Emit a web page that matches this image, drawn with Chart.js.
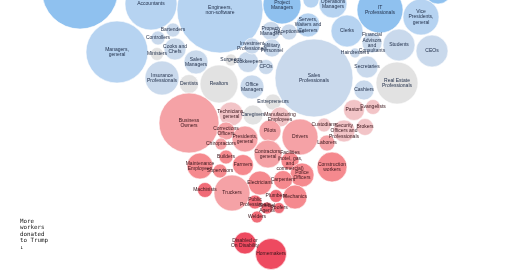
<!DOCTYPE html>
<html><head><meta charset="utf-8">
<script src="https://cdn.jsdelivr.net/npm/chart.js@4"></script>
<style>
html,body{margin:0;padding:0;background:#fff;}
#wrap{position:relative;width:520px;height:272px;overflow:hidden;}
#note{position:absolute;left:20px;top:218px;font:5.8px/6.4px "DejaVu Sans Mono",monospace;color:#111;white-space:pre;}
</style></head><body>
<div id="wrap"><canvas id="c" width="520" height="272"></canvas><div id="note">More
workers
donated
to Trump
↓</div></div>
<script>
// Occupations (line breaks are part of the label text)
const occupations = [
  "", "Accountants", "Engineers,\nnon-software", "Project\nManagers", "", "Operations\nManagers",
  "Servers,\nWaiters and\nCaterers", "Property\nManagers", "Receptionists", "Clerks", "IT\nProfessionals",
  "Vice\nPresidents,\ngeneral", "", "Students", "CEOs", "Financial\nAdvisors\nand\nConsultants",
  "Hairdressers", "Secretaries", "Real Estate\nProfessionals", "Cashiers", "Sales\nProfessionals",
  "Managers,\ngeneral", "Bartenders", "Controllers", "Cooks and\nChefs", "Ministers", "Sales\nManagers",
  "Insurance\nProfessionals", "Dentists", "Realtors", "Surgeons", "Bookkeepers", "CFOs",
  "Investment\nProfessionals", "Military\nPersonnel", "Office\nManagers", "Entrepreneurs", "Caregivers",
  "Technicians,\ngeneral", "Manufacturing\nEmployees", "Business\nOwners", "Corrections\nOfficers",
  "Presidents,\ngeneral", "Pilots", "Drivers", "Chiropractors", "Custodians",
  "Security\nOfficers and\nProfessionals", "Pastors", "Evangelists", "Brokers", "Laborers",
  "Construction\nworkers", "Builders", "Maintenance\nEmployees", "Supervisors", "Farmers",
  "Contractors,\ngeneral", "Facilities\n(hotel, gas,\nand\ncommercial)", "Police\nOfficers", "Carpenters",
  "Electricians", "Truckers", "Machinists", "Plumbers", "Mechanics", "Public\nProfessionals",
  "Special\nAgents", "Roofers", "Welders", "Disabled or\nOn Disability", "Homemakers"
];
// Packed-layout coordinates (data units of the hidden x / y axes)
const packX = [80,151,220,282,311,333, 308,271,289,347,380, 421,438,399,432,372, 355,367,397,364,314,
  117,173,158,175,157,196, 162,189,219,231,248,266, 252,272,252,273,253, 231,280,189,226, 245,270,300,221,324,
  344,354,373,365,327, 332,226,200,220,243, 268,290,302,283, 260,232,205,276,295,255, 267,279,257,245,271];
const packY = [-9,4,10,5,0,4, 25,31,32,31,10, 17,-10,45,51,43, 53,67,83,90,78,
  52,30,38,49,54,62, 78,84,84,60,62,67, 46,48,87,102,115, 114,117,123,131, 139,131,137,144,125,
  131,110,107,127,143, 167,157,166,171,165, 154,161,175,180, 183,193,190,196,197,202, 208,208,217,243,254];
// Bubble size (radius units)
const bubbleSize = [38,26,43,19,8,14, 12,9.5,8,16,23, 18,14,16,16,10, 5,11,21,10,39,
  31,7,7,11,6.5,12, 17,9.5,19,6,10.5,7.5, 8,9,12,8,10, 12,10,30,9, 13,11,18,6,7,
  11,10.5,7.5,8.5,8, 15,7,13,7,10.5, 14,9,12,9.5, 12,18,7.5,6.5,12,7, 6,5.5,6,11,15.5];
// Donation lean group: 0 strong Biden ... 8 strong Trump
const lean = [0,1,1,0,1,1, 1,2,2,1,0, 1,0,2,2,2, 2,2,3,2,2,
  1,2,2,2,3,2, 2,3,3,3,2,2, 2,2,2,3,3, 4,4,5,5, 5,5,5,5,4,
  4,4,4,4,5, 6,6,6,6,6, 5,6,6,6, 6,5,7,7,6,7, 7,7,7,8,8];

const palette = ["#8fc1ef","#b6d3f1","#c9d9ec","#e2e2e2","#f2c4c7","#f5a2a6","#f5898e","#f06b77","#ee4a60"];
const inkBlue = "#1f2d48", inkRed = "#3a161c";

const labelPlugin = {
  id: "bubbleLabels",
  afterDatasetsDraw(chart) {
    const ctx = chart.ctx;
    const meta = chart.getDatasetMeta(0);
    ctx.save();
    ctx.font = "5px 'Liberation Sans', Arial, sans-serif";
    ctx.textAlign = "center";
    ctx.textBaseline = "middle";
    meta.data.forEach((el, i) => {
      if (!occupations[i]) return;
      const lines = occupations[i].split("\n");
      const lh = 5.4;
      const y0 = el.y - (lines.length - 1) * lh / 2;
      ctx.fillStyle = lean[i] >= 4 ? inkRed : inkBlue;
      lines.forEach((t, k) => ctx.fillText(t, el.x, y0 + k * lh));
    });
    ctx.restore();
  }
};

new Chart(document.getElementById("c"), {
  type: "bubble",
  data: {
    datasets: [{
      data: occupations.map((o, i) => ({ x: packX[i], y: packY[i], r: bubbleSize[i] })),
      backgroundColor: lean.map(g => palette[g]),
      borderColor: "#ffffff",
      borderWidth: 0.6,
      hoverRadius: 0,
      clip: false
    }]
  },
  options: {
    responsive: false,
    animation: false,
    events: [],
    layout: { padding: 0, autoPadding: false },
    plugins: { legend: { display: false }, tooltip: { enabled: false } },
    scales: {
      x: { type: "linear", min: 0, max: 520, display: false },
      y: { type: "linear", min: 0, max: 272, reverse: true, display: false }
    }
  },
  plugins: [labelPlugin]
});
</script>
</body></html>
